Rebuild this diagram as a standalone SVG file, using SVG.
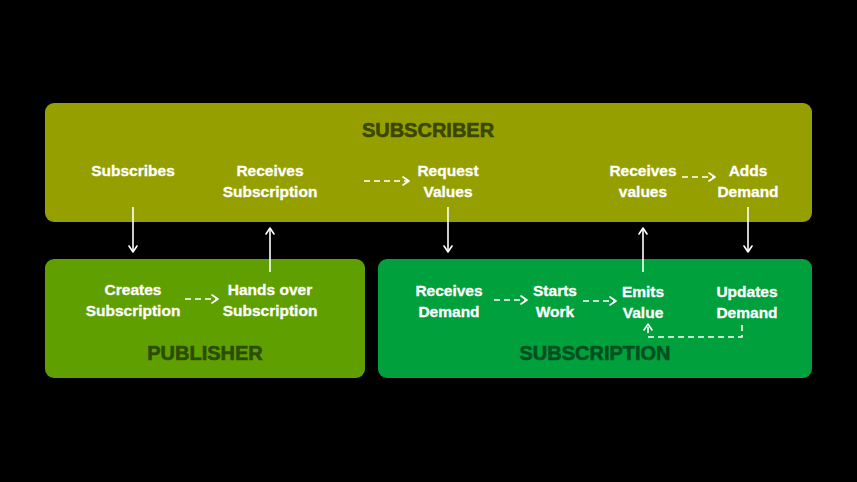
<svg xmlns="http://www.w3.org/2000/svg" width="857" height="482" viewBox="0 0 857 482">
  <defs>
    <marker id="head" viewBox="0 0 10 10" refX="9" refY="5" markerWidth="10" markerHeight="10" markerUnits="userSpaceOnUse" orient="auto">
      <path d="M3,1 L9,5 L3,9" fill="none" stroke="#ffffff" stroke-width="1.6" stroke-linecap="round" stroke-linejoin="round"/>
    </marker>
  </defs>
  <style>
    .box-sub { fill: #95a000; }
    .box-pub { fill: #5fa000; }
    .box-scr { fill: #00a03c; }
    .label { font-family: "Liberation Sans", Arial, sans-serif; font-weight: 700; font-size: 15.5px; fill: #ffffff; stroke: #ffffff; stroke-width: 0.3; text-anchor: middle; }
    .title { font-family: "Liberation Sans", Arial, sans-serif; font-weight: 700; font-size: 20px; stroke-width: 0.6; text-anchor: middle; }
    .t-sub { fill: #3b4700; stroke: #3b4700; }
    .t-pub { fill: #2c4c00; stroke: #2c4c00; }
    .t-scr { fill: #00501f; stroke: #00501f; }
    .solid { stroke: #ffffff; stroke-width: 1.6; fill: none; marker-end: url(#head); }
    .dash { stroke: #ffffff; stroke-width: 1.6; fill: none; stroke-dasharray: 6 4; marker-end: url(#head); }
  </style>
  <rect width="857" height="482" fill="#000000"/>

  <g id="subscriber">
    <rect class="box-sub" x="45" y="103" width="767" height="119" rx="9"/>
    <text class="title t-sub" x="428" y="137">SUBSCRIBER</text>
    <text class="label" x="133" y="176">Subscribes</text>
    <text class="label" x="270" y="176">Receives</text>
    <text class="label" x="270" y="197">Subscription</text>
    <text class="label" x="448" y="176">Request</text>
    <text class="label" x="448" y="197">Values</text>
    <text class="label" x="643" y="176">Receives</text>
    <text class="label" x="643" y="197">values</text>
    <text class="label" x="748" y="176">Adds</text>
    <text class="label" x="748" y="197">Demand</text>
  </g>

  <g id="publisher">
    <rect class="box-pub" x="45" y="259" width="320" height="119" rx="9"/>
    <text class="title t-pub" x="205" y="360">PUBLISHER</text>
    <text class="label" x="133" y="295">Creates</text>
    <text class="label" x="133" y="316">Subscription</text>
    <text class="label" x="270" y="295">Hands over</text>
    <text class="label" x="270" y="316">Subscription</text>
  </g>

  <g id="subscription">
    <rect class="box-scr" x="378" y="259" width="434" height="119" rx="9"/>
    <text class="title t-scr" x="595" y="360">SUBSCRIPTION</text>
    <text class="label" x="449" y="296">Receives</text>
    <text class="label" x="449" y="317">Demand</text>
    <text class="label" x="555" y="296">Starts</text>
    <text class="label" x="555" y="317">Work</text>
    <text class="label" x="643" y="297">Emits</text>
    <text class="label" x="643" y="318">Value</text>
    <text class="label" x="747" y="297">Updates</text>
    <text class="label" x="747" y="318">Demand</text>
  </g>

  <g id="connectors">
    <!-- vertical hand-offs between boxes -->
    <path class="solid" d="M133,207 L133,252"/>
    <path class="solid" d="M270,272 L270,228"/>
    <path class="solid" d="M448,207 L448,252"/>
    <path class="solid" d="M643,272 L643,228"/>
    <path class="solid" d="M748,207 L748,252"/>
    <!-- dashed steps inside boxes -->
    <path class="dash" d="M364,181 L409,181"/>
    <path class="dash" d="M682,177 L715,177"/>
    <path class="dash" d="M185,299 L218,299"/>
    <path class="dash" d="M494,300 L527,300"/>
    <path class="dash" d="M583,301 L616,301"/>
    <!-- demand loop back to Emits Value -->
    <path class="dash" d="M742,325 L742,337 L648,337 L648,324" stroke-dasharray="7 4"/>
  </g>
</svg>
